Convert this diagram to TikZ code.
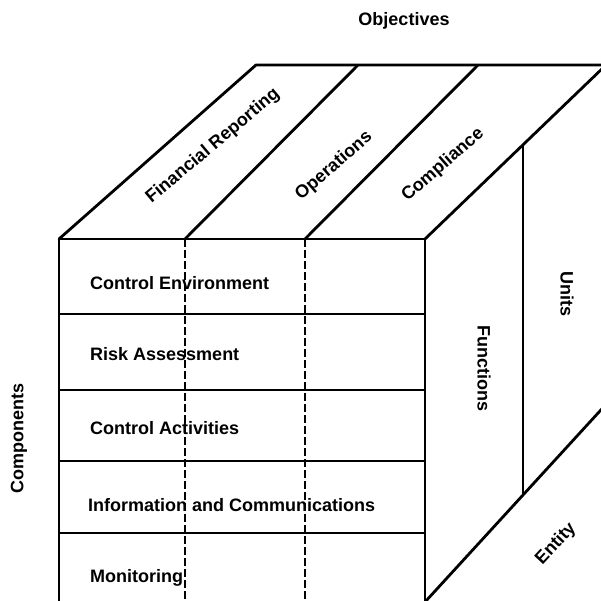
\documentclass[tikz,border=0pt]{standalone}
\usepackage{fontspec}
\setmainfont{Liberation Sans}
\begin{document}
\begin{tikzpicture}[x=1pt,y=-1pt,
  edge/.style={line width=2.8pt, line cap=round, line join=round},
  rowline/.style={line width=2.4pt},
  dashline/.style={line width=2.4pt, dash pattern=on 8pt off 3pt},
  lab/.style={font=\fontsize{18}{21}\selectfont\bfseries, inner sep=0pt}]
\useasboundingbox (0,0) rectangle (601,601);
\fill[white] (0,0) rectangle (601,601);
\clip (0,0) rectangle (601,601);
% front face corners
\coordinate (FTL) at (59,239);
\coordinate (FTR) at (425,239);
\coordinate (FBL) at (59,605);
\coordinate (FBR) at (425,605);
% back top
\coordinate (BTL) at (256,65);
\coordinate (BTR) at (606,65);
\coordinate (BTE) at (610,65);
% dividers
\coordinate (D1F) at (185,239);
\coordinate (D1B) at (358,65);
\coordinate (D2F) at (305,239);
\coordinate (D2B) at (478,65);
\coordinate (D1Z) at (185,605);
\coordinate (D2Z) at (305,605);
% right face
\coordinate (UT) at (523,145);
\coordinate (UB) at (523,494);
\coordinate (BD0) at (425,602);
\coordinate (BD1) at (610,400);
% rows
\foreach \y/\n in {314/R1,390/R2,461/R3,533/R4}{
  \coordinate (\n L) at (59,\y);
  \coordinate (\n R) at (425,\y);
}
% rows and dashed lines
\foreach \n in {R1,R2,R3,R4}{\draw[rowline] (\n L) -- (\n R);}
\draw[dashline] (D1F) -- (D1Z);
\draw[dashline] (D2F) -- (D2Z);
% outlines
\draw[edge] (FBL) -- (FTL) -- (FTR) -- (FBR);
\draw[edge] (FTL) -- (BTL) -- (BTE);
\draw[edge] (FTR) -- (BTR);
\draw[edge] (D1F) -- (D1B);
\draw[edge] (D2F) -- (D2B);
\draw[edge] (UT) -- (UB);
\draw[edge] (BD0) -- (BD1);
% labels
\node[lab] (obj) at (404,21) {Objectives};
\node[lab, rotate=40] (fin) at (213,146) {Financial Reporting};
\node[lab, rotate=41] (ops) at (334,166) {Operations};
\node[lab, rotate=41] (comp) at (443,165) {Compliance};
\node[lab, anchor=base west] (ce) at (90,289) {Control Environment};
\node[lab, anchor=base west] (ra) at (90,360) {Risk Assessment};
\node[lab, anchor=base west] (ca) at (90,434) {Control Activities};
\node[lab, anchor=base west] (ic) at (88,511) {Information and Communications};
\node[lab, anchor=base west] (mo) at (90,582) {Monitoring};
\node[lab, rotate=90] (cmp) at (19,438) {Components};
\node[lab, rotate=-90] (fun) at (484,368) {Functions};
\node[lab, rotate=-90] (uni) at (567,294) {Units};
\node[lab, rotate=47] (ent) at (556,544) {Entity};
\end{tikzpicture}
\end{document}
